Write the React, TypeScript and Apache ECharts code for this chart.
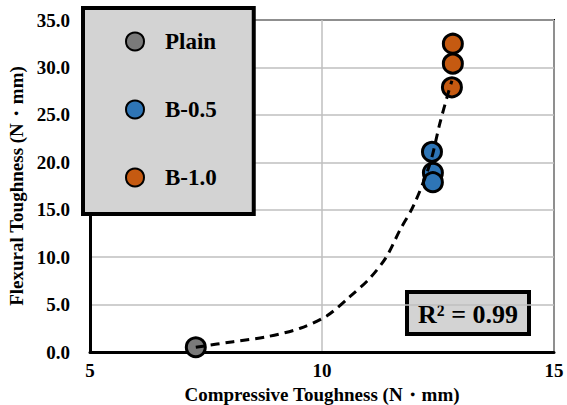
import React, { useEffect, useRef } from "react";
import * as echarts from "echarts";

const plainX = [7.28];
const plainY = [0.5];
const b05X = [12.37, 12.39, 12.39];
const b05Y = [21.1, 18.9, 17.9];
const b10X = [12.82, 12.82, 12.8];
const b10Y = [32.5, 30.4, 27.9];
const trendX = [7.28, 8.09, 8.81, 9.53, 10.1, 10.6, 11.03, 11.39, 11.68, 11.98, 12.33, 12.54, 12.72, 12.8];
const trendY = [0.5, 1.09, 1.61, 2.5, 3.8, 5.83, 7.77, 10.04, 12.86, 15.5, 19.9, 24.1, 27.3, 28.6];
const xTicks = [5, 10, 15];
const yMax = 35;
const r2Text = "R² = 0.99";

const FONT = "'Liberation Serif', 'Times New Roman', serif";

const pairs = (xs: number[], ys: number[]) => xs.map((x, i) => [x, ys[i]]);

export default function App() {
  const ref = useRef<HTMLDivElement>(null);
  useEffect(() => {
    if (!ref.current) return;
    document.body.style.margin = "0";
    const chart = echarts.init(ref.current, null, { renderer: "svg" });
    const markerStyle = (color: string) => ({
      color,
      borderColor: "#000",
      borderWidth: 3,
      opacity: 1,
    });
    chart.setOption({
      animation: false,
      backgroundColor: "#fff",
      grid: {
        left: 90,
        right: 13,
        top: 20,
        bottom: 53,
        containLabel: false,
        outerBoundsMode: "none",
        show: true,
        borderColor: "#000",
        borderWidth: 2,
        backgroundColor: "transparent",
      },
      xAxis: {
        type: "value",
        min: xTicks[0],
        max: xTicks[xTicks.length - 1],
        interval: 5,
        name: "Compressive Toughness (N・mm)",
        nameLocation: "middle",
        nameGap: 27,
        nameTextStyle: { fontFamily: FONT, fontWeight: "bold", fontSize: 19, color: "#000", lineHeight: 20 },
        axisLine: { show: true, lineStyle: { color: "#000", width: 3 } },
        axisTick: { show: false },
        axisLabel: { fontFamily: FONT, fontWeight: "bold", fontSize: 19, color: "#000", margin: 9 },
        splitLine: { show: true, lineStyle: { color: "#bfbfbf", width: 1.5 } },
      },
      yAxis: {
        type: "value",
        min: 0,
        max: yMax,
        interval: 5,
        name: "Flexural Toughness (N・mm)",
        nameLocation: "middle",
        nameGap: 58,
        nameTextStyle: { fontFamily: FONT, fontWeight: "bold", fontSize: 19, color: "#000" },
        axisLine: { show: true, lineStyle: { color: "#000", width: 3 } },
        axisTick: { show: false },
        axisLabel: {
          fontFamily: FONT,
          fontWeight: "bold",
          fontSize: 19,
          color: "#000",
          margin: 20,
          formatter: (v: number) => v.toFixed(1),
        },
        splitLine: { show: true, lineStyle: { color: "#bfbfbf", width: 1.5 } },
      },
      legend: {
        data: ["Plain", "B-0.5", "B-1.0"],
        orient: "vertical",
        left: 83,
        top: 8,
        padding: [22, 37, 25, 42],
        itemWidth: 18,
        itemHeight: 18,
        itemGap: 45,
        icon: "circle",
        backgroundColor: "#d3d3d3",
        borderColor: "#000",
        borderWidth: 4,
        textStyle: { fontFamily: FONT, fontWeight: "bold", fontSize: 23, color: "#000", padding: [0, 0, 0, 16] },
      },
      graphic: [
        {
          type: "group",
          left: 405,
          top: 290,
          children: [
            {
              type: "rect",
              shape: { x: 0, y: 0, width: 122, height: 42 },
              style: { fill: "#d3d3d3", stroke: "#000", lineWidth: 4 },
            },
            {
              type: "text",
              x: 61,
              y: 22,
              style: {
                text: r2Text,
                fontFamily: FONT,
                fontWeight: "bold",
                fontSize: 26,
                fill: "#000",
                align: "center",
                verticalAlign: "middle",
              },
            },
          ],
        },
      ],
      series: [
        {
          name: "Plain",
          type: "scatter",
          symbol: "circle",
          symbolSize: 19,
          itemStyle: markerStyle("#7a7a7a"),
          data: pairs(plainX, plainY),
        },
        {
          name: "B-0.5",
          type: "scatter",
          symbol: "circle",
          symbolSize: 19,
          itemStyle: markerStyle("#2e75b6"),
          data: pairs(b05X, b05Y),
        },
        {
          name: "B-1.0",
          type: "scatter",
          symbol: "circle",
          symbolSize: 19,
          itemStyle: markerStyle("#c55a11"),
          data: pairs(b10X, b10Y),
        },
        {
          name: "Trend",
          type: "line",
          smooth: 0.3,
          showSymbol: false,
          symbol: "none",
          z: 5,
          lineStyle: { color: "#000", width: 3, type: [9, 6] },
          data: pairs(trendX, trendY),
        },
      ],
    });
    return () => chart.dispose();
  }, []);
  return <div ref={ref} style={{ width: 567, height: 405 }} />;
}
